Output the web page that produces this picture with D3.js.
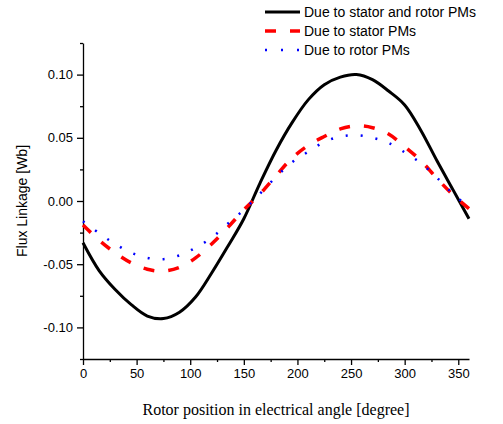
<!DOCTYPE html>
<meta charset="utf-8">
<style>
    body { margin: 0; background: #fff; }
    .axis text { font: 13px "Liberation Sans", Arial, sans-serif; fill: #000; }
    .axis path, .axis line { stroke: #000; stroke-width: 1.3; }
    .legend text { font: 14px "Liberation Sans", Arial, sans-serif; }
</style>
<svg></svg>
<script src="https://cdnjs.cloudflare.com/ajax/libs/d3/7.8.5/d3.min.js"></script>
<script>

    var width = 503,
        height = 424;

    // rotor position [deg]
    var angles = [0, 15, 30, 45, 60, 75, 90, 105, 120, 135, 150, 165, 180,
        195, 210, 225, 240, 255, 270, 285, 300, 315, 330, 345, 360];

    // flux linkage [Wb]
    var bothPMs = [-0.033, -0.055, -0.070, -0.082, -0.091, -0.093, -0.088, -0.076, -0.057, -0.036, -0.014, 0.014, 0.040,
        0.062, 0.080, 0.092, 0.098, 0.100, 0.096, 0.087, 0.076, 0.056, 0.032, 0.009, -0.014];
    var statorPMs = [-0.019, -0.031, -0.041, -0.049, -0.054, -0.0555, -0.0525, -0.045, -0.034, -0.021, -0.007, 0.0055, 0.020,
        0.034, 0.044, 0.051, 0.057, 0.0595, 0.058, 0.053, 0.043, 0.032, 0.018, 0.005, -0.006];
    var rotorPMs = [-0.016, -0.0255, -0.034, -0.041, -0.045, -0.046, -0.043, -0.037, -0.029, -0.018, -0.007, 0.0057, 0.019,
        0.0306, 0.039, 0.0467, 0.051, 0.052, 0.050, 0.046, 0.0385, 0.030, 0.0185, 0.0058, -0.005];

    var xTicks = [0, 50, 100, 150, 200, 250, 300, 350];
    var xMinor = [25, 75, 125, 175, 225, 275, 325];
    var yTicks = [-0.10, -0.05, 0.00, 0.05, 0.10];
    var yMinor = [-0.125, -0.075, -0.025, 0.025, 0.075, 0.125];

    var series = [
        { name: "Due to stator and rotor PMs", values: bothPMs, color: "#000", width: 3, dash: null },
        { name: "Due to stator PMs", values: statorPMs, color: "#ff0000", width: 3.5, dash: "11,14" },
        { name: "Due to rotor PMs", values: rotorPMs, color: "#0000ff", width: 2.5, dash: "2,13" }
    ];

    var margin = { top: 43, right: 34, bottom: 65, left: 83 };

    var svg = d3.select("svg")
        .attr("width", width)
        .attr("height", height);

    var x = d3.scaleLinear().domain([0, 360]).range([margin.left, width - margin.right]);
    var y = d3.scaleLinear().domain([-0.125, 0.125]).range([height - margin.bottom, margin.top]);

    // axes
    svg.append("g")
        .attr("class", "axis")
        .attr("transform", "translate(0," + (height - margin.bottom) + ")")
        .call(d3.axisBottom(x).tickValues(xTicks).tickSize(6).tickSizeOuter(0).tickPadding(4));
    svg.append("g")
        .attr("class", "axis")
        .attr("transform", "translate(0," + (height - margin.bottom) + ")")
        .call(d3.axisBottom(x).tickValues(xMinor).tickSize(3).tickSizeOuter(0).tickFormat(""))
        .select(".domain").remove();

    svg.append("g")
        .attr("class", "axis")
        .attr("transform", "translate(" + margin.left + ",0)")
        .call(d3.axisLeft(y).tickValues(yTicks).tickSize(6).tickSizeOuter(0).tickPadding(4)
            .tickFormat(d3.format(".2f")));
    svg.append("g")
        .attr("class", "axis")
        .attr("transform", "translate(" + margin.left + ",0)")
        .call(d3.axisLeft(y).tickValues(yMinor).tickSize(3).tickSizeOuter(0).tickFormat(""))
        .select(".domain").remove();

    svg.selectAll(".axis text").text(function () { return this.textContent.replace("\u2212", "-"); });

    // titles
    svg.append("text")
        .attr("transform", "translate(27," + ((margin.top + height - margin.bottom) / 2) + ") rotate(-90)")
        .attr("text-anchor", "middle")
        .style("font", "14px 'Liberation Sans', Arial, sans-serif")
        .text("Flux Linkage [Wb]");

    svg.append("text")
        .attr("x", 276)
        .attr("y", 415)
        .attr("text-anchor", "middle")
        .style("font", "16px 'Liberation Serif', 'Times New Roman', serif")
        .text("Rotor position in electrical angle [degree]");

    // curves
    var line = d3.line()
        .x(function (d) { return x(d[0]); })
        .y(function (d) { return y(d[1]); })
        .curve(d3.curveCatmullRom);

    svg.selectAll(".series")
        .data(series)
        .enter().append("path")
        .attr("class", "series")
        .attr("fill", "none")
        .attr("stroke", function (d) { return d.color; })
        .attr("stroke-width", function (d) { return d.width; })
        .attr("stroke-dasharray", function (d) { return d.dash; })
        .attr("d", function (d) { return line(angles.map(function (a, i) { return [a, d.values[i]]; })); });

    // legend
    var legend = svg.append("g").attr("class", "legend")
        .selectAll("g")
        .data(series)
        .enter().append("g")
        .attr("transform", function (d, i) { return "translate(265," + (12 + i * 19) + ")"; });

    legend.append("line")
        .attr("x1", 0).attr("x2", 35)
        .attr("stroke", function (d) { return d.color; })
        .attr("stroke-width", function (d) { return d.width; })
        .attr("stroke-dasharray", function (d) { return d.dash ? (d.dash === "2,13" ? "2,14" : d.dash) : null; });

    legend.append("text")
        .attr("x", 39)
        .attr("dy", "0.35em")
        .text(function (d) { return d.name; });

</script>
